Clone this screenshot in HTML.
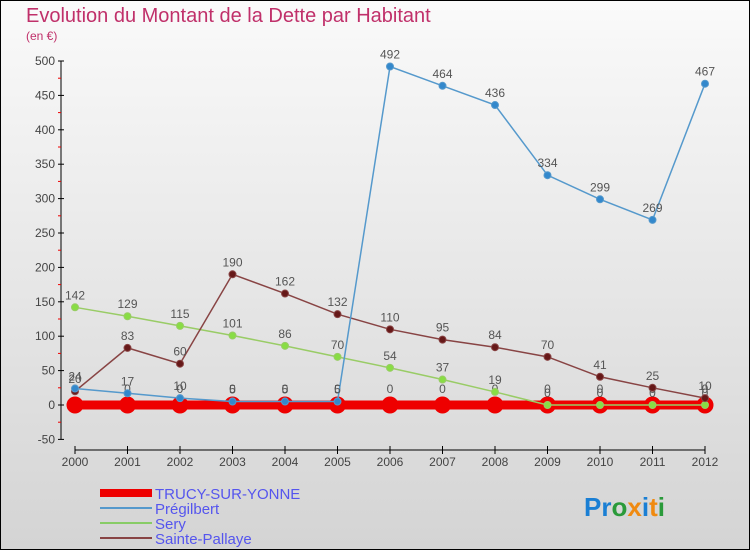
<!DOCTYPE html>
<html><head><meta charset="utf-8"><style>
body{margin:0}
#c{width:750px;height:550px;position:relative;box-sizing:border-box;border:1px solid #000;background:linear-gradient(#fafafa,#d4d4d4);font-family:"Liberation Sans",sans-serif;overflow:hidden}
</style></head><body>
<div id="c">
<svg id="s" width="750" height="550" style="position:absolute;left:-1px;top:-1px">
<text x="26" y="22" font-size="20" fill="#c0306a">Evolution du Montant de la Dette par Habitant</text>
<text x="26" y="40" font-size="12" fill="#c0306a">(en €)</text>
<g id="axes"></g><g id="marks"></g>
<g>
<rect x="100" y="489" width="52" height="8" fill="#ee0000"/>
<text x="155" y="499" font-size="15" fill="#5555ee">TRUCY-SUR-YONNE</text>
<rect x="100" y="507" width="52" height="2" fill="#5599cc"/>
<text x="155" y="514" font-size="15" fill="#5555ee">Prégilbert</text>
<rect x="100" y="522" width="52" height="2" fill="#88cc66"/>
<text x="155" y="529" font-size="15" fill="#5555ee">Sery</text>
<rect x="100" y="537" width="52" height="2" fill="#884444"/>
<text x="155" y="544" font-size="15" fill="#5555ee">Sainte-Pallaye</text>
</g>
<text x="584" y="516" font-size="26" font-weight="bold"><tspan fill="#1a7fd4">Pr</tspan><tspan fill="#2a9a3a">o</tspan><tspan fill="#f08a10">x</tspan><tspan fill="#1a7fd4">i</tspan><tspan fill="#f08a10">t</tspan><tspan fill="#2a9a3a">i</tspan></text>
</svg></div>
<script>
const years=[2000,2001,2002,2003,2004,2005,2006,2007,2008,2009,2010,2011,2012];
const yTicks=[-50,0,50,100,150,200,250,300,350,400,450,500];
const trucy=[0,0,0,0,0,0,0,0,0,0,0,0,0];
const pregilbert=[24,17,10,5,5,5,492,464,436,334,299,269,467];
const sery=[142,129,115,101,86,70,54,37,19,0,0,0,0];
const pallaye=[20,83,60,190,162,132,110,95,84,70,41,25,10];
const NS="http://www.w3.org/2000/svg";
const X=i=>75+i*52.5, Y=v=>405-v*0.688;
function mk(p,t,a){const e=document.createElementNS(NS,t);for(const k in a)e.setAttribute(k,a[k]);p.appendChild(e);return e;}
const ax=document.getElementById('axes'),mg=document.getElementById('marks');
let e=mk(ax,'line',{x1:61,y1:Y(500),x2:61,y2:Y(-50),stroke:'#000'});

yTicks.forEach(v=>{mk(ax,'line',{x1:58,x2:64,y1:Y(v),y2:Y(v),stroke:'#000'});
 if(v<500) mk(ax,'line',{x1:58,x2:61,y1:Y(v+25),y2:Y(v+25),stroke:'#e00'});
 const t=mk(ax,'text',{x:55,y:Y(v)+4,'text-anchor':'end','font-size':12,fill:'#444'});t.textContent=v;
 });
e=mk(ax,'line',{x1:X(0),y1:450,x2:X(12),y2:450,stroke:'#000'});

years.forEach((y,i)=>{mk(ax,'line',{x1:X(i),x2:X(i),y1:446,y2:454,stroke:'#000'});
 const t=mk(ax,'text',{x:X(i),y:466,'text-anchor':'middle','font-size':12,fill:'#444'});t.textContent=y;
 });
function series(d,name,col,w,r,fill,sw){
 const g=mk(mg,'g',{});
 mk(g,'polyline',{points:d.map((v,i)=>X(i)+','+Y(v)).join(' '),fill:'none',stroke:col,'stroke-width':w});
 d.forEach((v,i)=>{const c=mk(g,'circle',{cx:X(i),cy:Y(v),r:r,fill:fill,stroke:col,'stroke-width':sw});
  
  const t=mk(g,'text',{x:X(i),y:Y(v)-8-(r>5?4:0),'text-anchor':'middle','font-size':12,fill:'#555'});t.textContent=v;
  });
}
series(trucy,'trucy','#ee0000',9,8,'#ee0000',1);
series(sery,'sery','#99cc66',1.5,3.5,'#88dd44','#669933');
series(pallaye,'sainte-pallaye','#884444',1.5,3.5,'#661818','#441010');
series(pregilbert,'pregilbert','#5599cc',1.5,3.5,'#3388cc','#226699');
</script></body></html>
